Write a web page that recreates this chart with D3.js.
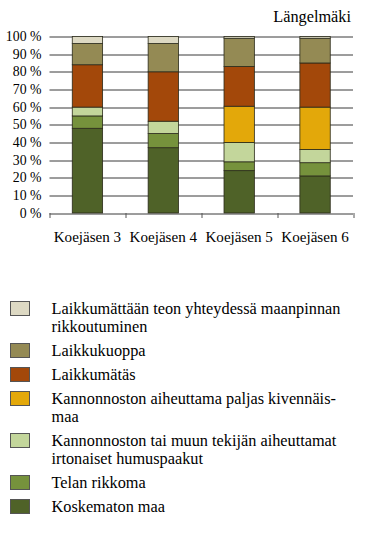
<!DOCTYPE html>
<html>
<head>
<meta charset="utf-8">
<script src="https://cdn.jsdelivr.net/npm/d3@7"></script>
<style>
  body { margin: 0; background: #fff; }
  text { font-family: "Liberation Serif", "Times New Roman", serif; fill: #000; }
</style>
</head>
<body>
<div id="chart"></div>
<script>
// Categories and series (bottom to top of each stack), values in %
var categories = ["Koejäsen 3", "Koejäsen 4", "Koejäsen 5", "Koejäsen 6"];
var koskematon = [48, 37, 24, 21];
var telan      = [7, 8, 5, 7.5];
var humus      = [5, 7, 11, 7.5];
var paljas     = [0, 0, 20.5, 24];
var mattas     = [24, 28, 22.5, 25];
var kuoppa     = [12, 16, 16, 14];
var rikkout    = [4, 4, 1, 1];
var yTicks = [0, 10, 20, 30, 40, 50, 60, 70, 80, 90, 100];
var title = "Längelmäki";

// Legend lines, top to bottom (as wrapped in the picture)
var legendLines = [
  ["Laikkumättään teon yhteydessä maanpinnan", "rikkoutuminen"],
  ["Laikkukuoppa"],
  ["Laikkumätäs"],
  ["Kannonnoston aiheuttama paljas kivennäis-", "maa"],
  ["Kannonnoston tai muun tekijän aiheuttamat", "irtonaiset humuspaakut"],
  ["Telan rikkoma"],
  ["Koskematon maa"]
];
// legend goes top of stack first
var legendOrder = [6, 5, 4, 3, 2, 1, 0];

var colors = ["#4f6228", "#76923c", "#c3d69b", "#e3a80a", "#a3480a", "#948a54", "#ddd9c3"];

var svgWidth = 370;
var svgHeight = 539;
var margin = { top: 36.5, right: 17, bottom: 326, left: 49.5 };
var chartWidth = svgWidth - margin.left - margin.right;
var chartHeight = svgHeight - margin.top - margin.bottom;

var svg = d3.select("#chart")
  .append("svg")
  .attr("width", svgWidth)
  .attr("height", svgHeight);

// title
svg.append("text")
  .attr("x", 351)
  .attr("y", 21.5)
  .attr("text-anchor", "end")
  .style("font-size", "16.3px")
  .text(title);

var chartGroup = svg.append("g")
  .attr("transform", `translate(${margin.left}, ${margin.top})`);

var table = categories.map(function(c, i) {
  return {
    cat: c,
    s0: koskematon[i], s1: telan[i], s2: humus[i], s3: paljas[i],
    s4: mattas[i], s5: kuoppa[i], s6: rikkout[i]
  };
});
var keys = ["s0", "s1", "s2", "s3", "s4", "s5", "s6"];
var stacked = d3.stack().keys(keys)(table);

var xScale = d3.scaleBand()
  .domain(categories)
  .range([0, chartWidth])
  .paddingInner(0.6)
  .paddingOuter(0.3);

var yScale = d3.scaleLinear()
  .domain([0, 100])
  .range([chartHeight, 0]);

// gridlines
chartGroup.append("g")
  .selectAll("line")
  .data(yTicks)
  .enter()
  .append("line")
  .attr("x1", 0)
  .attr("x2", chartWidth)
  .attr("y1", d => Math.round(yScale(d)) + 0.5)
  .attr("y2", d => Math.round(yScale(d)) + 0.5)
  .attr("stroke", "#3a3a3a")
  .attr("stroke-width", 1);

// y labels
chartGroup.append("g")
  .selectAll("text")
  .data(yTicks)
  .enter()
  .append("text")
  .attr("x", -8)
  .attr("y", d => yScale(d))
  .attr("dy", "0.33em")
  .attr("text-anchor", "end")
  .style("font-size", "13.8px")
  .text(d => d + " %");

// bottom ticks at category boundaries
var boundaries = d3.range(categories.length + 1).map(i => i * xScale.step());
chartGroup.append("g")
  .selectAll("line")
  .data(boundaries)
  .enter()
  .append("line")
  .attr("x1", d => Math.round(d) + 0.5)
  .attr("x2", d => Math.round(d) + 0.5)
  .attr("y1", chartHeight)
  .attr("y2", chartHeight + 5)
  .attr("stroke", "#555");

// bars
chartGroup.selectAll("g.series")
  .data(stacked)
  .enter()
  .append("g")
  .attr("class", "series")
  .attr("fill", (d, i) => colors[i])
  .selectAll("rect")
  .data(d => d)
  .enter()
  .append("rect")
  .attr("x", d => xScale(d.data.cat))
  .attr("width", xScale.bandwidth())
  .attr("y", d => yScale(d[1]))
  .attr("height", d => Math.max(0, yScale(d[0]) - yScale(d[1])))
  .attr("stroke", d => (d[1] - d[0]) > 0 ? "#2a2a1a" : "none")
  .attr("stroke-width", 0.8);

// category labels
chartGroup.append("g")
  .selectAll("text")
  .data(categories)
  .enter()
  .append("text")
  .attr("x", d => xScale(d) + xScale.bandwidth() / 2)
  .attr("y", chartHeight + 28.5)
  .attr("text-anchor", "middle")
  .style("font-size", "15.1px")
  .text(d => d);

// legend
var legend = svg.append("g");
var lineHeight = 18;
var gap = 6;
var yPos = 308.5;
legendOrder.forEach(function(si, k) {
  var lines = legendLines[k];
  legend.append("rect")
    .attr("x", 10.5)
    .attr("y", yPos - 7)
    .attr("width", 19)
    .attr("height", 14)
    .attr("fill", colors[si])
    .attr("stroke", "#555")
    .attr("stroke-width", 1);
  lines.forEach(function(t, j) {
    legend.append("text")
      .attr("x", 51.5)
      .attr("y", yPos + j * lineHeight)
      .attr("dy", "0.33em")
      .style("font-size", "16.3px")
      .text(t);
  });
  yPos += lines.length * lineHeight + gap;
});
</script>
</body>
</html>
